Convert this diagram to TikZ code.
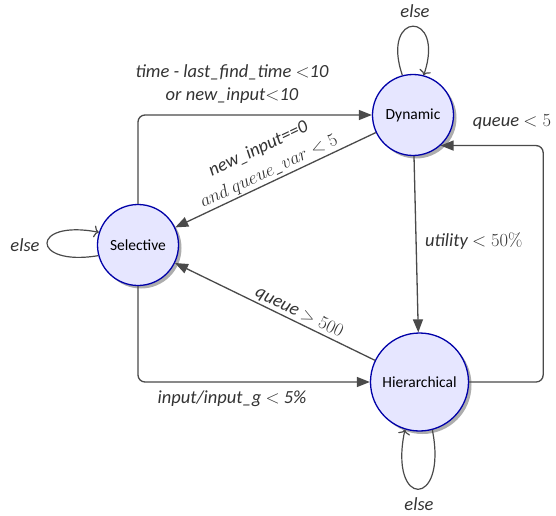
\RequirePackage{fix-cm}
\documentclass[tikz,border=0pt]{standalone}
\usepackage{fontspec}
\setsansfont{Carlito}
\usetikzlibrary{arrows.meta,shadows}

\definecolor{edgegray}{HTML}{4A4A4A}
\definecolor{statefill}{HTML}{E6E6FF}
\definecolor{stateline}{HTML}{0000A8}
\definecolor{labeltext}{HTML}{333333}

\begin{document}
\begin{tikzpicture}[x=1pt,y=1pt,
  state/.style={circle, draw=stateline, line width=1.3pt, fill=statefill,
    minimum size=81pt, inner sep=2pt,
    font=\sffamily\fontsize{15.5}{18}\selectfont,
    drop shadow={shadow xshift=3pt, shadow yshift=-3pt, fill=black!32, opacity=1}},
  link/.style={draw=edgegray, line width=1.3pt},
  fwd/.style={-{Triangle[length=13pt,width=10pt]}},
  bwd/.style={{Triangle[length=13pt,width=10pt]}-},
  selfloop/.style={draw=edgegray, line width=1.2pt, -{To[length=5pt,width=12pt]}},
  lbl/.style={font=\sffamily\itshape\fontsize{18.5}{22.5}\selectfont, text=labeltext},
  slopelbl/.style={lbl, above, sloped, inner sep=1.5pt}
]
\useasboundingbox (0,0) rectangle (556,515);

% states
\node[state] (S) at (138,270) {Selective};
\node[state] (D) at (413,400) {Dynamic};
\node[state, minimum size=98pt] (H) at (419.5,133) {Hierarchical};

% Selective -> Dynamic
\draw[link, fwd, rounded corners=7pt] (S) |- (D);
\node[lbl, align=center] (lsd) at (232,431) {time - last\_find\_time $<$10\\or new\_input$<$10};

% Dynamic -> Selective
\draw[link, bwd] (S) -- node[slopelbl, align=center, pos=0.49] (lds)
  {new\_input==0\\[2pt]$and\ queue\_var < 5$} (D);

% Hierarchical -> Selective
\draw[link, bwd] (S) -- node[slopelbl, pos=0.6] (lhs)
  {queue $> 500$} (H);

% Dynamic -> Hierarchical
\draw[link, fwd] (D) -- node[lbl, right, pos=0.48, xshift=5pt] (ldh)
  {utility $< 50\%$} (H);

% Hierarchical -> Dynamic
\draw[link, fwd, rounded corners=7pt] (H.east) -- ++(74,0) |- (D.-48);
\node[lbl] (lhd) at (512,393) {queue $< 5$};

% Selective -> Hierarchical
\draw[link, fwd, rounded corners=7pt] (S) |- (H);
\node[lbl] (lsh) at (232,116) {input/input\_g $<$ 5\%};

% self loops
\draw[selfloop] (S.195) .. controls (30,248) and (30,296) .. (S.162);
\node[lbl] (es) at (25,270) {else};

\draw[selfloop] (D.105) .. controls (380,505) and (446,505) .. (D.75);
\node[lbl] (ed) at (415,504) {else};

\draw[selfloop] (H.-75) .. controls (448,6) and (388,6) .. (H.-107);
\node[lbl] (eh) at (419,11) {else};
\end{tikzpicture}
\end{document}
